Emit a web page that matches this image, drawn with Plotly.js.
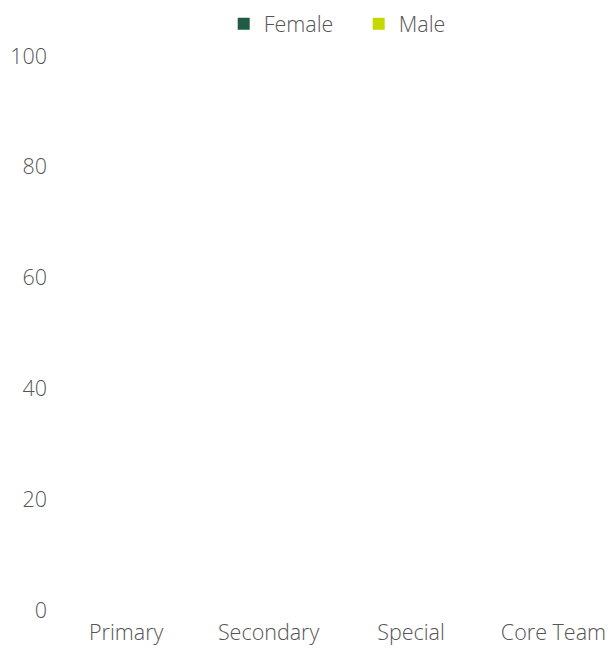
<!DOCTYPE html>
<html>
<head>
<meta charset="utf-8">
<script src="https://cdn.plot.ly/plotly-3.0.1.min.js"></script>
<style>html,body{margin:0;padding:0;background:#fff;}#chart{width:609px;height:652px;}</style>
</head>
<body>
<div id="chart"></div>
<script>
var categories = ["Primary", "Secondary", "Special", "Core Team"];
var femaleValues = [0, 0, 0, 0];
var maleValues = [0, 0, 0, 0];
var yTickVals = [0, 20, 40, 60, 80, 100];

var fontFamily = "'Open Sans', sans-serif";
var txt = {family: fontFamily, size: 21.5, color: "#555", weight: 300};
var traces = [
  {type: "bar", name: "Female", x: categories, y: femaleValues, marker: {color: "#205c45", line: {width: 0}}},
  {type: "bar", name: "Male", x: categories, y: maleValues, marker: {color: "#c5d800", line: {width: 0}}}
];
var layout = {
  width: 609, height: 652,
  margin: {l: 55, r: 0, t: 56, b: 42},
  paper_bgcolor: "#fff", plot_bgcolor: "#fff",
  font: txt,
  barmode: "group",
  showlegend: true,
  legend: {orientation: "h", x: 0.589, xanchor: "center", xref: "container", y: 0.995, yanchor: "top", yref: "container",
           font: txt, traceorder: "normal", entrywidth: 90, entrywidthmode: "pixels"},
  xaxis: {type: "category", range: [-0.5, 3.39], showgrid: false, zeroline: false, showline: false, ticks: "",
          tickfont: txt, ticklabelstandoff: 7, fixedrange: true},
  yaxis: {range: [0, 100], tickvals: yTickVals, showgrid: false, zeroline: false, showline: false, ticks: "",
          tickfont: txt, ticklabelstandoff: 7, fixedrange: true}
};
Plotly.newPlot("chart", traces, layout, {displayModeBar: false, staticPlot: true});
</script>
</body>
</html>
